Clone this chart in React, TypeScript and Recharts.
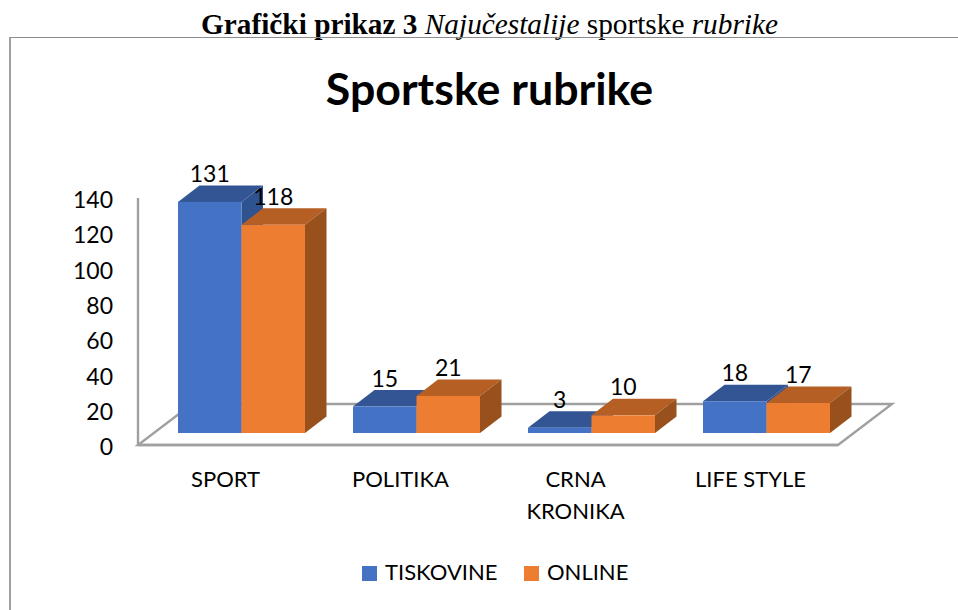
import { BarChart, Bar, XAxis, YAxis, Legend, LabelList } from 'recharts';

const categories = ['SPORT', 'POLITIKA', 'CRNA KRONIKA', 'LIFE STYLE'];
const tiskovine = [131, 15, 3, 18];
const online = [118, 21, 10, 17];
const yTicks = [0, 20, 40, 60, 80, 100, 120, 140];

const rows = categories.map((name, i) => ({ name, tiskovine: tiskovine[i], online: online[i] }));

const FONT = 'Lato, sans-serif';
const GREY = '#a0a0a0';
// the bars stand inside the floor, so they sit off the axis by this much
const SHIFT_X = 16;
const SHIFT_Y = -12;
const DEPTH_X = 21.5;
const DEPTH_Y = 16.5;

function Bar3D({ x, y, width, height, fill, topFill, sideFill }: any) {
  const l = x + SHIFT_X;
  const r = l + width;
  const t = y + SHIFT_Y;
  const b = t + height;
  return (
    <g>
      <polygon
        points={`${l},${t} ${r},${t} ${r + DEPTH_X},${t - DEPTH_Y} ${l + DEPTH_X},${t - DEPTH_Y}`}
        fill={topFill}
      />
      <polygon
        points={`${r},${t} ${r + DEPTH_X},${t - DEPTH_Y} ${r + DEPTH_X},${b - DEPTH_Y} ${r},${b}`}
        fill={sideFill}
      />
      <rect x={l} y={t} width={width} height={height} fill={fill} />
    </g>
  );
}

function ValueLabel({ x, y, width, value }: any) {
  return (
    <text
      x={x + SHIFT_X + width / 2}
      y={y + SHIFT_Y - 20}
      textAnchor="middle"
      fontFamily={FONT}
      fontSize={23}
      fill="#000"
    >
      {value}
    </text>
  );
}

function CategoryTick({ x, y, payload }: any) {
  const lines = payload.value === 'CRNA KRONIKA' ? payload.value.split(' ') : [payload.value];
  return (
    <text x={x} y={y} textAnchor="middle" fontFamily={FONT} fontSize={22} fill="#000">
      {lines.map((line: string, i: number) => (
        <tspan key={line} x={x} dy={i === 0 ? 0 : 32}>{line}</tspan>
      ))}
    </text>
  );
}

function LegendRow({ payload }: any) {
  const spots = [362, 524];
  return (
    <div style={{ position: 'absolute', left: 0, top: 0, height: 0 }}>
      {(payload || []).map((p: any, i: number) => (
        <div key={p.value} style={{ position: 'absolute', left: spots[i], top: 0, whiteSpace: 'nowrap' }}>
          <span style={{ position: 'absolute', left: 0, top: 0, width: 15, height: 15, background: p.color }} />
          <span style={{ position: 'absolute', left: 23, top: -8, fontFamily: FONT, fontSize: 22, color: '#000', lineHeight: '28px' }}>
            {p.value}
          </span>
        </div>
      ))}
    </div>
  );
}

export default function App() {
  return (
    <div style={{ position: 'absolute', left: 0, top: 0, width: 958, height: 610, background: '#fff', overflow: 'hidden' }}>
      <div
        style={{
          position: 'absolute', left: 0, width: 979, top: 9, textAlign: 'center', whiteSpace: 'nowrap',
          fontFamily: '"Liberation Serif", serif', fontSize: 29.3, lineHeight: '30px', color: '#000',
        }}
      >
        <b>Grafički prikaz 3</b> <i>Najučestalije </i>sportske <i>rubrike</i>
      </div>
      <div style={{ position: 'absolute', left: 9, top: 37, width: 960, height: 600, borderLeft: `2px solid ${GREY}`, borderTop: '1.5px solid #8c8c8c' }} />
      <div
        style={{
          position: 'absolute', left: 0, width: 979, top: 60, textAlign: 'center',
          fontFamily: FONT, fontWeight: 700, fontSize: 44.7, lineHeight: '56px', color: '#000',
        }}
      >
        Sportske rubrike
      </div>
      <div style={{ position: 'absolute', left: 0, top: 0 }}>
        <BarChart
          width={958}
          height={610}
          data={rows}
          margin={{ top: 198, right: 120, bottom: 125, left: 78 }}
          barGap={0}
          barSize={63.5}
        >
          <polygon points="138,445 838,445 892,404 192,404" fill="none" stroke={GREY} strokeWidth={2.4} />
          <XAxis
            dataKey="name"
            height={40}
            tickLine={false}
            tickMargin={36}
            axisLine={{ stroke: GREY, strokeWidth: 2.4 }}
            tick={<CategoryTick />}
          />
          <YAxis
            width={60}
            domain={[0, 140]}
            ticks={yTicks}
            interval={0}
            tickSize={0}
            tickMargin={25}
            axisLine={{ stroke: GREY, strokeWidth: 2.4 }}
            tick={{ fontFamily: FONT, fontSize: 23, fill: '#000', dy: 2 }}
          />
          <Legend
            content={<LegendRow />}
            layout="vertical"
            align="left"
            verticalAlign="top"
            itemSorter={null}
            wrapperStyle={{ left: 0, top: 566, width: 0, height: 0 }}
          />
          <Bar
            dataKey="tiskovine"
            name="TISKOVINE"
            fill="#4472c4"
            isAnimationActive={false}
            shape={<Bar3D topFill="#335593" sideFill="#2f5290" />}
          >
            <LabelList dataKey="tiskovine" content={<ValueLabel />} />
          </Bar>
          <Bar
            dataKey="online"
            name="ONLINE"
            fill="#ed7d31"
            isAnimationActive={false}
            shape={<Bar3D topFill="#b55f24" sideFill="#98501c" />}
          >
            <LabelList dataKey="online" content={<ValueLabel />} />
          </Bar>
        </BarChart>
      </div>
    </div>
  );
}
